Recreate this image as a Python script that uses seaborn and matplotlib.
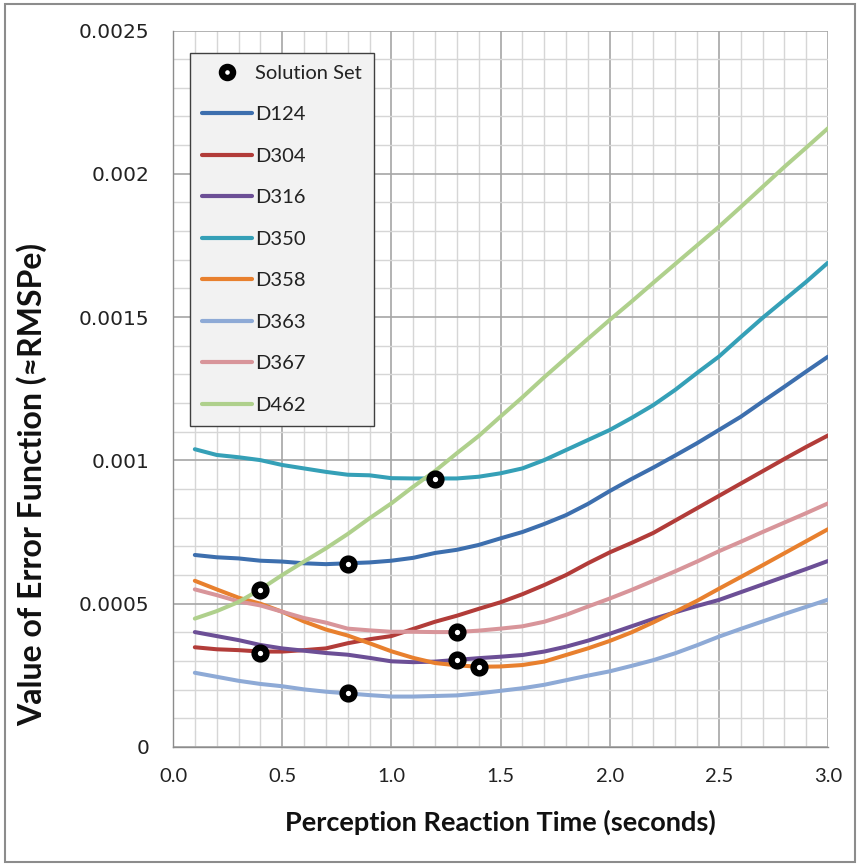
import numpy as np
import pandas as pd
import matplotlib
matplotlib.use("Agg")
import matplotlib.pyplot as plt
from matplotlib.lines import Line2D
from matplotlib.patches import Rectangle
import seaborn as sns

# ---------------- data ----------------
prt = [0.1, 0.2, 0.3, 0.4, 0.5, 0.6, 0.7, 0.8, 0.9, 1.0,
       1.1, 1.2, 1.3, 1.4, 1.5, 1.6, 1.7, 1.8, 1.9, 2.0,
       2.1, 2.2, 2.3, 2.4, 2.5, 2.6, 2.7, 2.8, 2.9, 3.0]

d124 = [0.000670, 0.000662, 0.000658, 0.000650, 0.000647, 0.000641, 0.000638, 0.000641, 0.000644, 0.000650,
        0.000660, 0.000677, 0.000688, 0.000705, 0.000728, 0.000750, 0.000778, 0.000809, 0.000848, 0.000893,
        0.000935, 0.000975, 0.001017, 0.001060, 0.001106, 0.001152, 0.001205, 0.001257, 0.001310, 0.001362]
d304 = [0.000348, 0.000341, 0.000338, 0.000333, 0.000333, 0.000338, 0.000344, 0.000362, 0.000376, 0.000387,
        0.000412, 0.000437, 0.000458, 0.000482, 0.000505, 0.000533, 0.000565, 0.000600, 0.000641, 0.000679,
        0.000712, 0.000747, 0.000790, 0.000833, 0.000876, 0.000919, 0.000962, 0.001005, 0.001047, 0.001087]
d316 = [0.000401, 0.000387, 0.000373, 0.000356, 0.000344, 0.000336, 0.000328, 0.000322, 0.000311, 0.000299,
        0.000296, 0.000298, 0.000304, 0.000310, 0.000315, 0.000321, 0.000333, 0.000350, 0.000371, 0.000395,
        0.000421, 0.000447, 0.000470, 0.000492, 0.000513, 0.000540, 0.000567, 0.000594, 0.000621, 0.000649]
d350 = [0.001039, 0.001019, 0.001011, 0.001001, 0.000984, 0.000972, 0.000960, 0.000950, 0.000948, 0.000938,
        0.000937, 0.000937, 0.000937, 0.000943, 0.000955, 0.000972, 0.001001, 0.001036, 0.001071, 0.001106,
        0.001148, 0.001193, 0.001246, 0.001305, 0.001362, 0.001430, 0.001497, 0.001560, 0.001623, 0.001690]
d358 = [0.000580, 0.000550, 0.000521, 0.000500, 0.000472, 0.000438, 0.000410, 0.000389, 0.000362, 0.000334,
        0.000311, 0.000293, 0.000285, 0.000280, 0.000281, 0.000286, 0.000298, 0.000321, 0.000344, 0.000370,
        0.000400, 0.000435, 0.000472, 0.000510, 0.000552, 0.000593, 0.000634, 0.000676, 0.000718, 0.000760]
d363 = [0.000259, 0.000245, 0.000231, 0.000220, 0.000212, 0.000201, 0.000193, 0.000187, 0.000181, 0.000176,
        0.000176, 0.000178, 0.000180, 0.000187, 0.000196, 0.000205, 0.000217, 0.000233, 0.000249, 0.000264,
        0.000283, 0.000303, 0.000327, 0.000355, 0.000385, 0.000412, 0.000438, 0.000464, 0.000489, 0.000514]
d367 = [0.000550, 0.000530, 0.000508, 0.000494, 0.000472, 0.000450, 0.000434, 0.000413, 0.000407, 0.000402,
        0.000402, 0.000401, 0.000401, 0.000406, 0.000413, 0.000421, 0.000437, 0.000461, 0.000490, 0.000518,
        0.000548, 0.000580, 0.000613, 0.000647, 0.000683, 0.000716, 0.000750, 0.000783, 0.000816, 0.000850]
d462 = [0.000448, 0.000474, 0.000506, 0.000550, 0.000600, 0.000647, 0.000693, 0.000743, 0.000798, 0.000850,
        0.000908, 0.000963, 0.001025, 0.001085, 0.001153, 0.001220, 0.001290, 0.001357, 0.001424, 0.001490,
        0.001554, 0.001620, 0.001685, 0.001750, 0.001815, 0.001884, 0.001954, 0.002024, 0.002091, 0.002159]

series_names = ["D124", "D304", "D316", "D350", "D358", "D363", "D367", "D462"]
series_values = [d124, d304, d316, d350, d358, d363, d367, d462]
series_colors = ["#3d6fae", "#b23c39", "#6c4f96", "#35a0b7", "#e8802e", "#8eaad6", "#d8959a", "#afd08c"]

sol_x = [0.4, 0.4, 0.8, 0.8, 1.2, 1.3, 1.3, 1.4]
sol_y = [0.000548, 0.000329, 0.000638, 0.000187, 0.000934, 0.000400, 0.000304, 0.000278]

x_ticks = [0.0, 0.5, 1.0, 1.5, 2.0, 2.5, 3.0]
x_tick_labels = ["0.0", "0.5", "1.0", "1.5", "2.0", "2.5", "3.0"]
y_ticks = [0, 0.0005, 0.001, 0.0015, 0.002, 0.0025]
y_tick_labels = ["0", "0.0005", "0.001", "0.0015", "0.002", "0.0025"]

# ---------------- build frame ----------------
rows = []
for name, vals in zip(series_names, series_values):
    for x, v in zip(prt, vals):
        rows.append({"PRT": x, "Error": v, "Series": name})
df = pd.DataFrame(rows)
sol_df = pd.DataFrame({"PRT": sol_x, "Error": sol_y})

sns.set_theme(style="white")
plt.rcParams["font.family"] = ["DejaVu Sans"]

W, H = 860, 867
fig = plt.figure(figsize=(W / 100, H / 100), dpi=100)
ax = fig.add_axes([173 / W, 1 - 747 / H, (828 - 173) / W, (747 - 30.5) / H])

palette = dict(zip(series_names, series_colors))
sns.lineplot(data=df, x="PRT", y="Error", hue="Series", palette=palette,
             linewidth=2.9, ax=ax, legend=False, zorder=3)
sns.scatterplot(data=sol_df, x="PRT", y="Error", ax=ax, marker="o", s=72,
                facecolor="white", edgecolor="black", linewidth=4.6, zorder=4, legend=False)

ax.set_xlim(0, 3.0)
ax.set_ylim(0, 0.0025)
ax.set_xticks(x_ticks)
ax.set_xticklabels(x_tick_labels, fontsize=14.5, family=["Lato", "DejaVu Sans"], color="#222222")
ax.set_yticks(y_ticks)
ax.set_yticklabels(y_tick_labels, fontsize=14.5, color="#222222")
ax.set_xticks(np.arange(0, 3.01, 0.1), minor=True)
ax.set_yticks(np.arange(0, 0.00251, 0.0001), minor=True)

ax.grid(which="minor", color="#d6d6d6", linewidth=1.0, zorder=0)
ax.grid(which="major", color="#a6a6a6", linewidth=1.2, zorder=0)
ax.set_axisbelow(True)

for side in ["top", "right"]:
    ax.spines[side].set_visible(False)
for side in ["left", "bottom"]:
    ax.spines[side].set_color("#8c8c8c")
    ax.spines[side].set_linewidth(1.0)
ax.tick_params(axis="both", which="major", direction="out", length=5.8, width=1,
               color="#8c8c8c")
ax.tick_params(axis="both", which="minor", length=0)
ax.tick_params(axis="x", pad=9)
ax.tick_params(axis="y", pad=11)

ax.set_xlabel("Perception Reaction Time (seconds)", fontsize=19.5, fontweight="bold",
              family=["Lato", "DejaVu Sans"], labelpad=18, color="#111111")
ax.set_ylabel("Value of Error Function (\u2248RMSPe)", fontsize=23, fontweight="bold",
              family=["Lato", "DejaVu Sans"], color="#111111")
ax.yaxis.set_label_coords(-0.192, 0.366)

# legend
handles = [Line2D([0], [0], linestyle="none", marker="o", markersize=8,
                  markerfacecolor="white", markeredgecolor="black", markeredgewidth=4.6)]
labels = ["Solution Set"]
for name, col in zip(series_names, series_colors):
    handles.append(Line2D([0], [0], color=col, linewidth=3))
    labels.append(name)
leg = ax.legend(handles, labels, loc="upper left", bbox_to_anchor=(17 / 655, (747 - 52.7) / 716.5),
                borderaxespad=0, frameon=True, fancybox=False,
                handlelength=2.5, handletextpad=0.15, labelspacing=1.21,
                borderpad=0.6, prop={"family": ["Lato", "DejaVu Sans"], "size": 14.5})
for t in leg.get_texts():
    t.set_color("#222222")
leg.get_frame().set_facecolor("#f2f2f2")
leg.get_frame().set_edgecolor("#404040")
leg.get_frame().set_linewidth(1.0)
leg.get_frame().set_alpha(1.0)
leg.set_zorder(6)

# outer figure border
fig.patches.append(Rectangle((5 / W, 1 - 862 / H), 850 / W, 858 / H, transform=fig.transFigure,
                             fill=False, edgecolor="#8c8c8c", linewidth=1.5))

fig.savefig("out.png", dpi=100)
